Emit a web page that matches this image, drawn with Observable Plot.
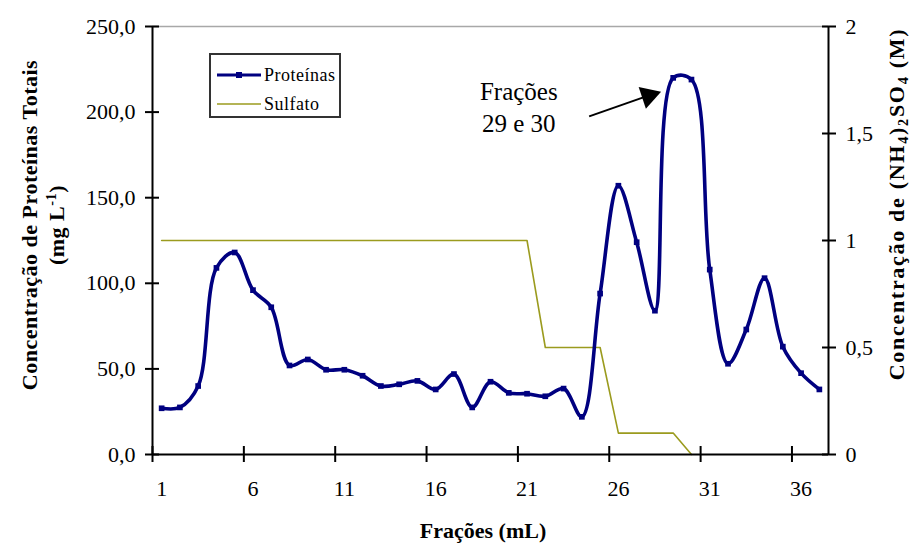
<!DOCTYPE html>
<html><head><meta charset="utf-8">
<script src="https://cdn.jsdelivr.net/npm/d3@7"></script>
<script src="https://cdn.jsdelivr.net/npm/@observablehq/plot@0.6"></script>
<style>
body{margin:0;background:#fff;}
#wrap{position:relative;width:914px;height:547px;font-family:"Liberation Serif","Times New Roman",serif;color:#000;}
.t{position:absolute;white-space:nowrap;transform:translate(-50%,-50%);}
.rot{transform:translate(-50%,-50%) rotate(-90deg);text-align:center;}
.b{font-weight:bold;font-size:22px;}
#legend{position:absolute;left:209px;top:53px;width:128px;height:61px;border:2px solid #333;background:#fff;}
.li{position:absolute;left:4px;height:20px;display:flex;align-items:center;font-size:18px;letter-spacing:0.5px;}
sub{font-size:65%;vertical-align:-0.25em;line-height:0;}
sup{font-size:65%;vertical-align:0.55em;line-height:0;}
</style></head><body><div id="wrap"></div>
<script>
// categories (fractions)
const fractions = [1,2,3,4,5,6,7,8,9,10,11,12,13,14,15,16,17,18,19,20,21,22,23,24,25,26,27,28,29,30,31,32,33,34,35,36,37];
// Proteínas (mg/L), left axis
const proteinas = [27,27.5,40,109,118,96,86,52,55.5,49.5,49.5,46,40,41,43,38,47,27.5,42.5,36,35.5,34,38.5,22,94,157,124,84,220,219,108,53,73,103,63,47.5,38];
// Sulfato (M), right axis, fractions 1..30
const sulfato = [1,1,1,1,1,1,1,1,1,1,1,1,1,1,1,1,1,1,1,1,1,0.5,0.5,0.5,0.5,0.1,0.1,0.1,0.1,0];
const leftTicks = [0,50,100,150,200,250];
const rightTicks = [0,0.5,1,1.5,2];
const xTickLabels = [1,6,11,16,21,26,31,36];
const xTickMarks = [0.5,5.5,10.5,15.5,20.5,25.5,30.5,35.5];
const rightMax = 2, leftMax = 250;
const k = leftMax / rightMax;
// annotation
const annotText = ["Frações\n29 e 30"];
const annotPos = {x: 20.55, y: 203.5};
const arrowLine = {x1: 24.4, y1: 197.5, x2: 27.6, y2: 209.5};
const arrowHead = {x: 27.65, y: 209.5, angle: 71.6};

const prot = fractions.map((f, i) => ({f, p: proteinas[i]}));
const sulf = sulfato.map((s, i) => ({f: fractions[i], s: s * k}));
const fmtL = d => d.toFixed(1).replace(".", ",");
const fmtR = d => String(d / k).replace(".", ",");

const chart = Plot.plot({
  width: 914, height: 547,
  marginLeft: 152, marginRight: 86, marginTop: 26, marginBottom: 93,
  style: {fontFamily: "Liberation Serif, Times New Roman, serif", fontSize: "22px", background: "white", color: "#000", overflow: "visible"},
  x: {domain: [0.5, 37.5], label: null},
  y: {domain: [0, leftMax], label: null},
  marks: [
    Plot.ruleY([leftMax], {stroke: "#a8a8a8", strokeWidth: 1.5}),
    Plot.line(sulf, {x: "f", y: "s", stroke: "#9b9b1e", strokeWidth: 1.6}),
    Plot.line(prot, {x: "f", y: "p", stroke: "#000080", strokeWidth: 3.6, curve: "catmull-rom"}),
    Plot.dot(prot, {x: "f", y: "p", symbol: "square", r: 3.2, fill: "#000080"}),
    Plot.ruleX([0.5, 37.5], {strokeWidth: 2}),
    Plot.ruleY([0], {strokeWidth: 2}),
    Plot.axisY(leftTicks, {anchor: "left", tickSize: 14, dx: 7, tickFormat: () => "", strokeWidth: 2}),
    Plot.axisY(leftTicks, {anchor: "left", tickSize: 0, tickPadding: 17, tickFormat: fmtL, fontSize: 22}),
    Plot.axisY(rightTicks.map(v => v * k), {anchor: "right", tickSize: 14, dx: -7, tickFormat: () => "", strokeWidth: 2}),
    Plot.axisY(rightTicks.map(v => v * k), {anchor: "right", tickSize: 0, tickPadding: 17, tickFormat: fmtR, fontSize: 22}),
    Plot.axisX(xTickMarks, {anchor: "bottom", tickSize: 16, dy: -8, tickFormat: () => "", strokeWidth: 2}),
    Plot.axisX(xTickLabels, {anchor: "bottom", tickSize: 0, tickPadding: 26, tickFormat: d => String(d), fontSize: 22}),
    Plot.link([arrowLine], {x1: "x1", y1: "y1", x2: "x2", y2: "y2", stroke: "black", strokeWidth: 2}),
    Plot.dot([arrowHead], {x: "x", y: "y", symbol: "triangle", r: 8.5, rotate: "angle", fill: "black", stroke: null}),
    Plot.text(annotText, {x: () => annotPos.x, y: () => annotPos.y, text: d => d, fontSize: 25, lineHeight: 1.28, textAnchor: "middle"})
  ]
});
const wrap = document.getElementById("wrap");
wrap.appendChild(chart);

function addText(html, cls, x, y, extra) {
  const d = document.createElement("div");
  d.className = "t " + cls;
  d.style.left = x + "px"; d.style.top = y + "px";
  if (extra) Object.assign(d.style, extra);
  d.innerHTML = html;
  wrap.appendChild(d);
}
addText("Concentração de Proteínas Totais<br>(mg L<sup>-1</sup>)", "rot b", 43, 225, {lineHeight: "27px", letterSpacing: "0.5px"});
addText("Concentração de (NH<sub>4</sub>)<sub>2</sub>SO<sub>4</sub> (M)", "rot b", 897, 204, {letterSpacing: "1.7px"});
addText("Frações (mL)", "b", 483, 531);

const lg = document.createElement("div");
lg.id = "legend";
lg.innerHTML = `
<div class="li" style="top:10px"><svg width="48" height="10" style="margin-right:1px"><line x1="2" y1="5" x2="46" y2="5" stroke="#000080" stroke-width="3"/><rect x="21" y="2" width="6" height="6" fill="#000080"/></svg>Proteínas</div>
<div class="li" style="top:39px"><svg width="48" height="10" style="margin-right:1px"><line x1="2" y1="5" x2="46" y2="5" stroke="#9b9b1e" stroke-width="1.6"/></svg>Sulfato</div>`;
wrap.appendChild(lg);
</script></body></html>
